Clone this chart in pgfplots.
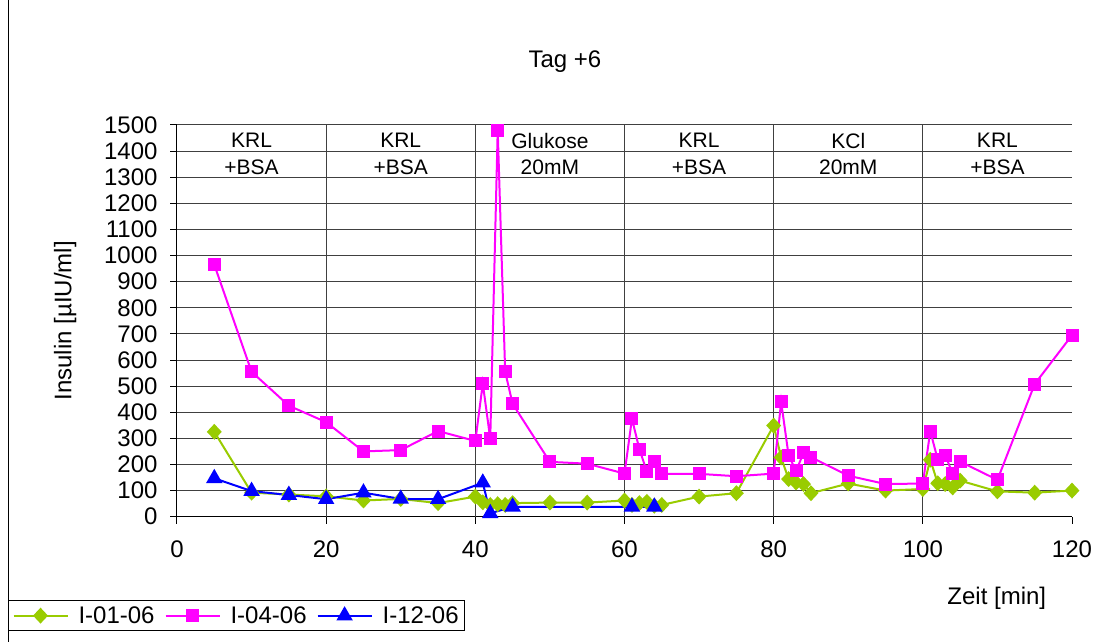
\documentclass[border=0pt]{standalone}
\usepackage{fontspec}
\setmainfont{Liberation Sans}
\usepackage{pgfplots}
\pgfplotsset{compat=1.18}
\definecolor{cgreen}{RGB}{153,204,0}
\definecolor{cmag}{RGB}{255,0,255}
\definecolor{cblue}{RGB}{0,0,255}
\begin{document}
\begin{tikzpicture}
\useasboundingbox (0,0) rectangle (1112pt,642pt);
\fill[white] (0,0) rectangle (1112pt,642pt);
\draw[black, line width=1pt] (8pt,0) -- (8pt,642pt);
\begin{axis}[
  scale only axis, width=895pt, height=391.7pt,
  at={(177pt,125.3pt)}, anchor=south west,
  xmin=0, xmax=120, ymin=0, ymax=1500,
  axis lines*=left,
  axis line style={black, line width=1pt},
  xtick={0,20,...,120}, ytick={0,100,...,1500},
  tick align=outside, major tick length=7pt,
  tick style={black, line width=1pt},
  ymajorgrids,
  extra x ticks={20,40,60,80,100}, extra x tick labels={},
  extra x tick style={grid=major, major tick length=0pt},
  major grid style={black!75, line width=1pt},
  /pgf/number format/assume math mode=true,
  /pgf/number format/1000 sep={},
  tick label style={font=\fontsize{24}{28}\selectfont},
  yticklabel style={xshift=-9pt},
  xticklabel style={yshift=-14pt},
  ylabel={Insulin [µIU/ml]},
  every axis y label/.style={at={(axis description cs:-0.125,0.5)}, rotate=90, anchor=center, font=\fontsize{24}{28}\selectfont},
  xlabel={Zeit [min]},
  every axis x label/.style={at={(axis description cs:0.916,-0.2076)}, anchor=center, font=\fontsize{24}{28}\selectfont},
  title={Tag +6},
  every axis title/.style={at={(axis description cs:0.4335,1.161)}, anchor=center, font=\fontsize{24}{28}\selectfont},
  legend columns=3,
  legend style={at={(axis description cs:-0.1888,-0.2127)}, anchor=north west,
    draw=black, line width=1pt, font=\fontsize{24}{28}\selectfont,
    /tikz/every even column/.append style={column sep=8pt},
    /tikz/every odd column/.append style={column sep=8pt}, inner sep=4pt},
  legend image code/.code={\draw[mark repeat=2,mark phase=2,#1] plot coordinates {(0pt,0pt) (27pt,0pt) (54pt,0pt)};},
]
\addplot[cgreen, line width=2pt, mark=diamond*, mark size=6.5pt, mark options={solid, xscale=1.25}] coordinates {
(5,325) (10,92) (15,85) (20,78) (25,62) (30,68) (35,52) (40,77)
(41,55) (42,45) (43,48) (44,45) (45,52) (50,54) (55,54) (60,62)
(61,45) (62,52) (63,57) (64,42) (65,45) (70,77) (75,90) (80,349)
(81,227) (82,144) (83,131) (84,125) (85,90) (90,127) (95,100) (100,106)
(101,218) (102,128) (103,125) (104,112) (105,138) (110,97) (115,92) (120,100)
};
\addlegendentry{I-01-06}
\addplot[cmag, line width=2pt, mark=square*, mark size=5.5pt, mark options={solid}] coordinates {
(5,965) (10,555) (15,425) (20,362) (25,250) (30,255) (35,328) (40,290)
(41,510) (42,298) (43,1480) (44,555) (45,432) (50,210) (55,203) (60,165)
(61,375) (62,258) (63,173) (64,211) (65,164) (70,164) (75,155) (80,165)
(81,440) (82,235) (83,175) (84,244) (85,228) (90,157) (95,125) (100,127)
(101,328) (102,218) (103,236) (104,165) (105,211) (110,141) (115,508) (120,695)
};
\addlegendentry{I-04-06}
\addplot[cblue, line width=2pt, mark=triangle*, mark size=7.5pt, mark options={solid}] coordinates {
(5,147) (10,98) (15,83) (20,67) (25,92) (30,68) (35,67) (41,130)
(42,13) (45,38) (61,38) (64,38)
};
\addlegendentry{I-12-06}
\node[font=\fontsize{21}{24}\selectfont] at (axis cs:10,1440) {KRL};
\node[font=\fontsize{21}{24}\selectfont] at (axis cs:10,1338) {+BSA};
\node[font=\fontsize{21}{24}\selectfont] at (axis cs:30,1440) {KRL};
\node[font=\fontsize{21}{24}\selectfont] at (axis cs:30,1338) {+BSA};
\node[font=\fontsize{21}{24}\selectfont] at (axis cs:50,1440) {Glukose};
\node[font=\fontsize{21}{24}\selectfont] at (axis cs:50,1338) {20mM};
\node[font=\fontsize{21}{24}\selectfont] at (axis cs:70,1440) {KRL};
\node[font=\fontsize{21}{24}\selectfont] at (axis cs:70,1338) {+BSA};
\node[font=\fontsize{21}{24}\selectfont] at (axis cs:90,1440) {KCl};
\node[font=\fontsize{21}{24}\selectfont] at (axis cs:90,1338) {20mM};
\node[font=\fontsize{21}{24}\selectfont] at (axis cs:110,1440) {KRL};
\node[font=\fontsize{21}{24}\selectfont] at (axis cs:110,1338) {+BSA};
\end{axis}
\end{tikzpicture}
\end{document}
